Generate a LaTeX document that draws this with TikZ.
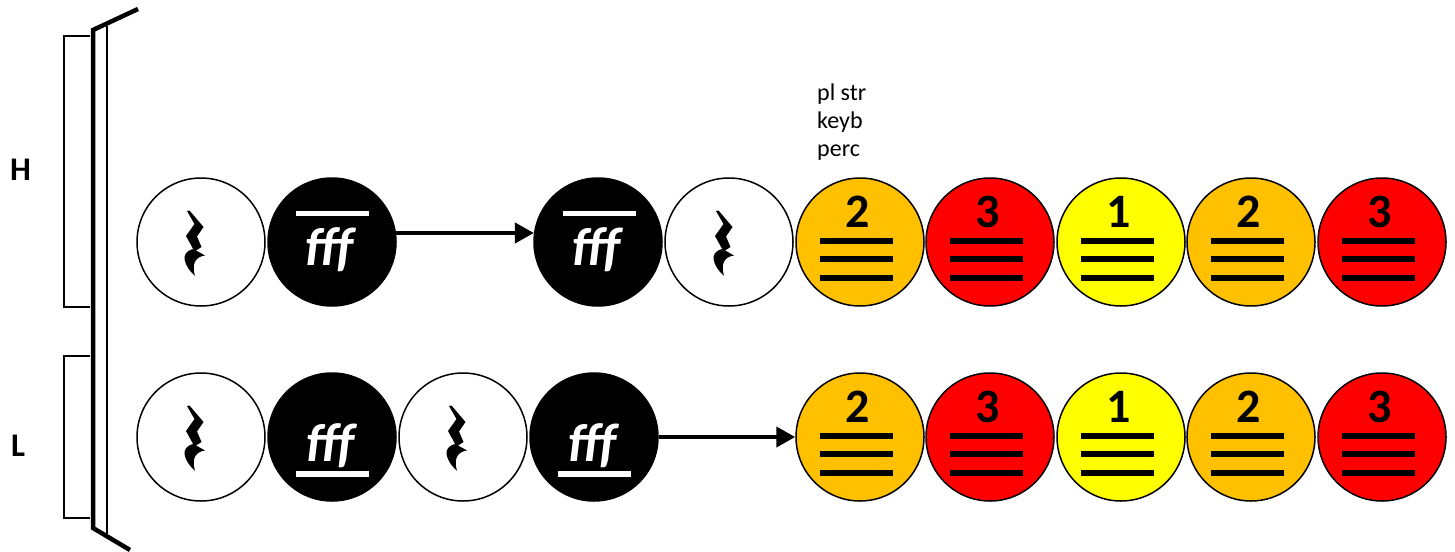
\documentclass[tikz,border=0pt]{standalone}
\usepackage{fontspec}
\setmainfont{Carlito}
\usetikzlibrary{arrows.meta}

\definecolor{gold}{HTML}{FFC000}
\definecolor{hot}{HTML}{FF0000}
\definecolor{lemon}{HTML}{FFFF00}

\tikzset{
  disc/.style={circle, draw=black, line width=1.5pt, minimum size=128pt, inner sep=0pt},
  restdisc/.style={disc, fill=white},
  loud/.style={disc, fill=black},
  part/.style={disc, fill=#1},
  stripe/.style={line width=6pt},
  whitebar/.style={draw=white, line width=5.5pt},
  flow/.style={line width=4pt, -{Triangle[length=19pt,width=20pt]}},
  numtxt/.style={font=\fontsize{48}{48}\selectfont\bfseries, inner sep=0pt},
  dyn/.style={text=white, font=\fontsize{54}{54}\selectfont\bfseries\itshape, inner sep=0pt},
  rowlabel/.style={font=\fontsize{33}{33}\selectfont\bfseries, inner sep=0pt},
  pics/quarterrest/.style={code={
    \fill (-10,-31) -- (-7.5,-31.5) -- (6.5,-15) -- (0,-5.5) -- (4.5,5)
          -- (-2.5,9.5) -- (-11,-6) -- (-2.5,-18) -- cycle;
    \fill (-3.5,7) -- (8,13.5) .. controls (0,14.5) and (-6,20) .. (-2,34)
          .. controls (-13,24) and (-18,10) .. (-3.5,7) -- cycle;
  }},
  pics/stripes/.style={code={
    \foreach \yy in {-1,17,35.5} \draw[stripe] (-40.5,\yy) -- (32.5,\yy);
  }},
  pics/overbar/.style={code={\draw[whitebar] (-36.5,-28.5) -- (36.5,-28.5);}},
  pics/underbar/.style={code={\draw[whitebar] (-36.5,37) -- (36.5,37);}},
}

\begin{document}
\begin{tikzpicture}[x=1pt, y=-1pt]
\useasboundingbox (0,0) rectangle (1455,551);

% score bracket with the two register braces
\draw[line width=4.5pt, line join=miter] (138,9) -- (93,30) -- (93,528) -- (130,550);
\draw[line width=1.5pt] (107,26) -- (107,535);
\draw[line width=1.4pt] (90,36) -- (64,36) -- (64,307) -- (90,307);
\draw[line width=1.4pt] (90,356) -- (64,356) -- (64,518) -- (90,518);
\node[rowlabel] (hi) at (20.5,169.5) {H};
\node[rowlabel] (lo) at (18,445.5) {L};

% upper row
\node[restdisc] (t1) at (201,242) {};
\pic at ([xshift=-4pt]t1.center) {quarterrest};
\node[loud] (t2) at (332,242) {};
\node[dyn] (t2f) at ([shift={(-3,8)}]t2.center) {fff};
\pic at (t2.center) {overbar};
\node[loud] (t3) at (598,242) {};
\node[dyn] (t3f) at ([shift={(-2,8)}]t3.center) {fff};
\pic at ([xshift=1pt]t3.center) {overbar};
\node[restdisc] (t4) at (729,242) {};
\pic at ([xshift=-3pt]t4.center) {quarterrest};
\foreach \n/\x/\c/\d in {t5/860/gold/2, t6/990/hot/3, t7/1121/lemon/1, t8/1251/gold/2, t9/1382/hot/3} {
  \node[part=\c] (\n) at (\x,242) {};
  \node[numtxt] (\n n) at ([shift={(-2,-30.5)}]\n.center) {\d};
  \pic at (\n.center) {stripes};
}
\draw[flow] (t2.8) -- (t3.172);

\node[anchor=north west, align=left, inner sep=0pt,
      font=\fontsize{24}{28}\selectfont] (inst) at (817,84) {pl str\\keyb\\perc};

% lower row
\node[restdisc] (b1) at (201,437) {};
\pic at ([xshift=-4pt]b1.center) {quarterrest};
\node[loud] (b2) at (332,437) {};
\node[dyn] (b2f) at ([shift={(-2,8.5)}]b2.center) {fff};
\pic at (b2.center) {underbar};
\node[restdisc] (b3) at (463,437) {};
\pic at ([xshift=-4pt]b3.center) {quarterrest};
\node[loud] (b4) at (594,437) {};
\node[dyn] (b4f) at ([shift={(-2,8.5)}]b4.center) {fff};
\pic at (b4.center) {underbar};
\foreach \n/\x/\c/\d in {b5/860/gold/2, b6/990/hot/3, b7/1121/lemon/1, b8/1251/gold/2, b9/1382/hot/3} {
  \node[part=\c] (\n) at (\x,437) {};
  \node[numtxt] (\n n) at ([shift={(-2,-30.5)}]\n.center) {\d};
  \pic at (\n.center) {stripes};
}
\draw[flow] (b4.east) -- (b5.west);
\end{tikzpicture}
\end{document}
